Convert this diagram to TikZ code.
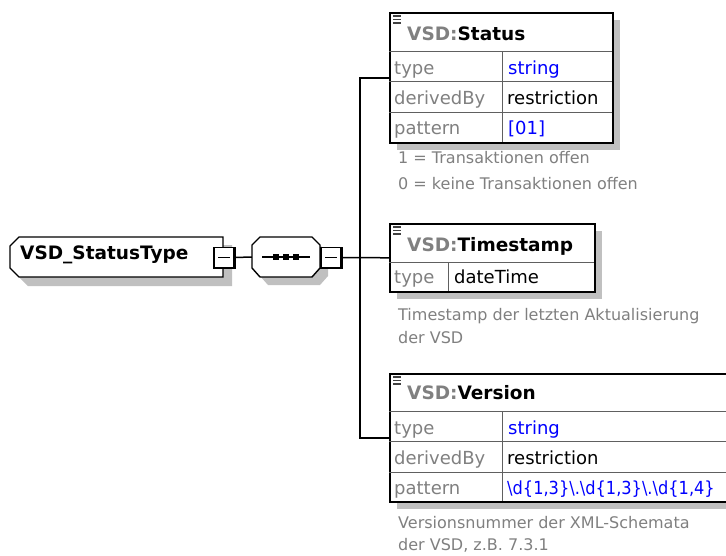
\documentclass[tikz,border=0pt]{standalone}
\usepackage{fontspec}
\setmainfont{DejaVu Sans}
\definecolor{lbl}{RGB}{128,128,128}
\definecolor{shd}{RGB}{192,192,192}
\definecolor{val}{RGB}{0,0,255}
\definecolor{sep}{RGB}{96,96,96}
\tikzset{
  shadowfill/.style={fill=shd, draw=none},
  ebox/.style={draw=black, line width=1.6pt, fill=white, anchor=north west, inner sep=0pt, minimum width=#1},
  rowline/.style={draw=sep, line width=1pt},
  conn/.style={draw=black, line width=1.5pt},
  lbltext/.style={anchor=base west, inner sep=0pt, text=lbl, font=\fontsize{18}{20}\selectfont},
  valtext/.style={anchor=base west, inner sep=0pt, text=val, font=\fontsize{18}{20}\selectfont},
  plaintext/.style={anchor=base west, inner sep=0pt, text=black, font=\fontsize{18}{20}\selectfont},
  titletext/.style={anchor=base west, inner sep=0pt, font=\bfseries\fontsize{18.5}{20}\selectfont},
  notetext/.style={anchor=base west, inner sep=0pt, text=lbl, font=\fontsize{16}{18}\selectfont},
  icon/.style={draw=black!75, line width=1.3pt},
  minusbox/.style={draw=black, line width=1.2pt, fill=white, minimum size=20pt, inner sep=0pt},
}
\begin{document}
\begin{tikzpicture}[x=1pt,y=-1pt]
\clip (0,0) rectangle (726,555);
\fill[white] (0,0) rectangle (726,555);

% ---------- root node ----------
\fill[shd] (18,245) -- (28,245) -- (232,245) -- (232,286) -- (28,286) -- (18,276) -- cycle;
\draw[line width=1.4pt, fill=white] (19,237) -- (223,237) -- (223,277) -- (19,277) -- (10,268) -- (10,246) -- cycle;
\node[titletext, anchor=mid west] (root) at (20,257) {VSD\_StatusType};
\node[minusbox] (rsq) at (224,257.5) {};
\draw[line width=2pt] (rsq.south west) -- (rsq.south east) -- (rsq.north east);
\draw[line width=1.2pt] ([xshift=5pt]rsq.west) -- ([xshift=-5pt]rsq.east);

% ---------- sequence node ----------
\fill[shd] (268,245) -- (320,245) -- (328,253) -- (328,276) -- (320,285) -- (268,285) -- (260,276) -- (260,253) -- cycle;
\draw[line width=1.4pt, fill=white] (260,237) -- (312,237) -- (320,245) -- (320,268) -- (312,277) -- (260,277) -- (252,268) -- (252,245) -- cycle;
\node[minimum width=68pt, minimum height=40pt, inner sep=0pt] (seq) at (286,257) {};
\draw[line width=1.2pt] (262,257) -- (310,257);
\foreach \dx in {276,286,296} \fill (\dx-3,254) rectangle (\dx+3,260);
\node[minusbox] (ssq) at (331,257.5) {};
\draw[line width=2pt] (ssq.south west) -- (ssq.south east) -- (ssq.north east);
\draw[line width=1.2pt] ([xshift=5pt]ssq.west) -- ([xshift=-5pt]ssq.east);

% ---------- Status ----------
\fill[shadowfill] (397,20) rectangle (620,150);
\node[ebox=223pt, minimum height=130pt] (status) at (389,12) {};
\draw[rowline] (389,51) -- (612,51);
\draw[rowline] (389,81) -- (612,81);
\draw[rowline] (389,112) -- (612,112);
\draw[rowline] (502,51) -- (502,142);
\draw[icon] (393,16) -- (401,16) (393,19.5) -- (401,19.5) (393,23) -- (401,23);
\node[titletext] (stt) at (407,40) {\textcolor{lbl}{VSD:}Status};
\node[lbltext] (s1) at (394,74) {type};
\node[valtext] (s1v) at (508,74) {string};
\node[lbltext] (s2) at (394,104) {derivedBy};
\node[plaintext] (s2v) at (507,104) {restriction};
\node[lbltext] (s3) at (394,134) {pattern};
\node[valtext] (s3v) at (508,134) {[01]};
\node[notetext] (sn1) at (398,163) {1 = Transaktionen offen};
\node[notetext] (sn2) at (398,189) {0 = keine Transaktionen offen};

% ---------- Timestamp ----------
\fill[shadowfill] (397,231) rectangle (602,299);
\node[ebox=205pt, minimum height=68pt] (ts) at (389,223) {};
\draw[rowline] (389,262) -- (594,262);
\draw[rowline] (448,262) -- (448,291);
\draw[icon] (393,227) -- (401,227) (393,230.5) -- (401,230.5) (393,234) -- (401,234);
\node[titletext] (tst) at (407,251) {\textcolor{lbl}{VSD:}Timestamp};
\node[lbltext] (t1) at (394,283) {type};
\node[plaintext] (t1v) at (454,283) {dateTime};
\node[notetext] (tn1) at (398,320) {Timestamp der letzten Aktualisierung};
\node[notetext] (tn2) at (398,343) {der VSD};

% ---------- Version ----------
\fill[shadowfill] (397,381) rectangle (760,509);
\node[ebox=360pt, minimum height=128pt] (ver) at (389,373) {};
\draw[rowline] (389,411) -- (749,411);
\draw[rowline] (389,441) -- (749,441);
\draw[rowline] (389,472) -- (749,472);
\draw[rowline] (502,411) -- (502,501);
\draw[icon] (393,377) -- (401,377) (393,380.5) -- (401,380.5) (393,384) -- (401,384);
\node[titletext] (vt) at (407,399) {\textcolor{lbl}{VSD:}Version};
\node[lbltext] (v1) at (394,434) {type};
\node[valtext] (v1v) at (508,434) {string};
\node[lbltext] (v2) at (394,464) {derivedBy};
\node[plaintext] (v2v) at (507,464) {restriction};
\node[lbltext] (v3) at (394,494) {pattern};
\node[valtext] (v3v) at (507,494) {\scalebox{0.9}[1]{\textbackslash d\{1,3\}\textbackslash .\textbackslash d\{1,3\}\textbackslash .\textbackslash d\{1,4\}}};
\node[notetext] (vn1) at (398,528) {Versionsnummer der XML-Schemata};
\node[notetext] (vn2) at (398,550) {der VSD, z.B. 7.3.1};

% ---------- connectors ----------
\coordinate (bus) at (360,257);
\draw[conn] (rsq.east) -- (seq.west);
\draw[conn] (ssq.east) -- (ts.west);
\draw[conn] (status.west) -| (bus) |- (ver.west);
\end{tikzpicture}
\end{document}
